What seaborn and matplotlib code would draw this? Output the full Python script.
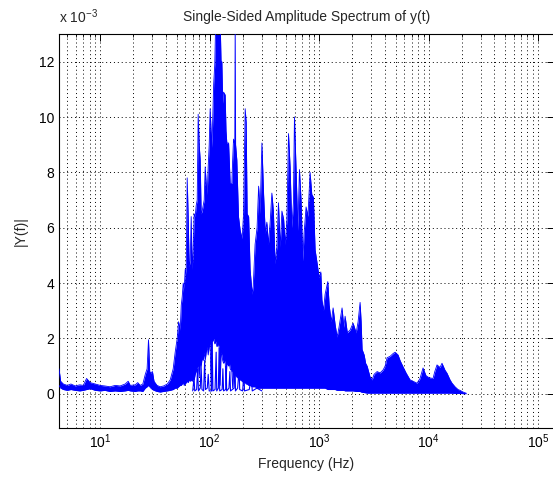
import numpy as np
import pandas as pd
import matplotlib
matplotlib.use("Agg")
import matplotlib.pyplot as plt
import seaborn as sns
from matplotlib.ticker import LogLocator, NullFormatter, FixedLocator

# ---- data (amplitude in units of 1e-3) ----
freq_hz = [4.2, 4.35, 4.6, 5.0, 5.4, 5.9, 6.5, 7.0, 7.5, 8.1, 9.0, 10.0, 11.0, 12.3, 13.7, 15.2,
           16.9, 18.0, 18.8, 20.9, 22.0, 23.2, 24.5, 25.8, 26.8, 27.6, 28.3, 29.0, 30.0, 31.0,
           33.0, 35.3, 38.0, 41.0, 43.6, 46.4, 48.4, 50.5, 52.0, 53.8, 55.0, 56.1, 57.3, 58.5,
           59.8, 61.0, 62.3, 63.6, 65.0, 66.4, 67.8, 69.2, 70.7, 72.2, 73.7, 75.3, 76.9, 78.5,
           80.2, 81.9, 83.6, 85.4, 87.2, 89.1, 91.0, 92.9, 94.9, 96.9, 99.0, 101.0, 103.0,
           104.9, 106.8, 108.8, 111.3, 113.5, 116.5, 119.6, 122.5, 124.7, 127.0, 129.2, 131.5,
           133.9, 138.5, 141.0, 143.5, 148.9, 151.5, 153.9, 159.4, 162.0, 165.2, 169.5, 171.0,
           172.5, 177.0, 183.4, 190.0, 198.0, 204.0, 211.0, 215.5, 220.0, 227.0, 234.0, 244.5,
           250.0, 260.0, 271.0, 280.0, 289.0, 300.0, 311.0, 322.0, 333.0, 344.0, 357.0, 370.0,
           382.0, 396.0, 411.0, 425.0, 441.0, 457.0, 474.0, 490.0, 508.0, 525.0, 543.0, 563.0,
           582.0, 595.0, 617.0, 639.0, 661.0, 684.0, 709.0, 729.0, 760.0, 790.0, 827.0, 857.0,
           886.0, 919.0, 960.0, 1000.0, 1036.0, 1060.0, 1095.0, 1135.0, 1200.0, 1235.0, 1290.0,
           1342.0, 1400.0, 1460.0, 1520.0, 1620.0, 1680.0, 1728.0, 1810.0, 1919.0, 2045.0,
           2180.0, 2270.0, 2368.0, 2420.0, 2470.0, 2580.0, 2660.0, 2744.0, 2923.0, 3049.0,
           3180.0, 3388.0, 3608.0, 3843.0, 4010.0, 4178.0, 4450.0, 4740.0, 4944.0, 5265.0,
           5490.0, 5848.0, 6230.0, 6774.0, 7216.0, 7846.0, 8357.0, 8901.0, 9480.0, 9887.0,
           10310.0, 10984.0, 11400.0, 11943.0, 12721.0, 13268.0, 14130.0, 14747.0, 15708.0,
           16383.0, 17450.0, 18586.0, 19400.0, 20660.0, 21550.0, 22050.0]

upper_amp = [0.9, 0.45, 0.35, 0.3, 0.35, 0.28, 0.32, 0.3, 0.55, 0.4, 0.35, 0.3, 0.28, 0.25, 0.3, 0.28,
             0.35, 0.45, 0.3, 0.32, 0.4, 0.3, 0.35, 0.7, 0.9, 1.95, 0.8, 0.75, 0.8, 0.45,
             0.3, 0.25, 0.28, 0.35, 0.5, 0.9, 1.5, 2.0, 2.6, 2.3, 3.2, 3.5, 4.0, 3.8,
             4.5, 4.3, 7.8, 6.4, 4.6, 4.8, 6.4, 4.5, 5.2, 6.5, 6.4, 6.8, 7.0, 10.1,
             9.0, 8.45, 6.5, 6.6, 6.8, 7.0, 8.2, 7.6, 7.2, 8.2, 9.0, 10.3, 9.5,
             8.9, 10.0, 11.2, 11.9, 13.5, 13.5, 13.5, 13.5, 13.5, 12.0, 12.0, 10.5,
             10.9, 10.8, 9.5, 9.06, 9.06, 8.3, 7.6, 7.6, 8.4, 9.2, 9.0, 13.5,
             9.0, 8.45, 6.4, 5.9, 5.6, 6.5, 10.3, 9.8, 6.5, 6.4, 4.5, 3.6,
             3.9, 5.4, 6.0, 7.5, 6.5, 9.06, 7.2, 5.8, 6.2, 5.4, 6.2, 7.25,
             6.6, 4.7, 5.3, 6.9, 5.3, 6.6, 6.3, 5.4, 6.3, 9.4, 8.2, 6.0,
             6.9, 10.0, 8.0, 5.9, 8.1, 7.0, 4.8, 5.8, 6.75, 6.4, 8.0, 7.2,
             7.1, 5.2, 4.7, 4.2, 4.4, 3.4, 3.0, 3.6, 4.05, 3.2, 2.6,
             3.1, 2.5, 2.05, 2.4, 3.1, 2.4, 2.8, 2.2, 2.3, 2.55,
             2.2, 2.6, 3.3, 2.6, 1.6, 1.4, 1.1, 1.0, 0.6, 0.5,
             0.7, 0.8, 0.75, 0.86, 1.0, 1.3, 1.35, 1.45, 1.5, 1.4,
             1.2, 0.97, 0.75, 0.5, 0.45, 0.38, 0.55, 0.93, 0.65, 0.6,
             0.57, 0.55, 0.8, 1.04, 0.95, 1.1, 0.85, 0.74, 0.5,
             0.38, 0.25, 0.15, 0.12, 0.06, 0.03, 0.02]

lower_amp = [0.3, 0.2, 0.15, 0.12, 0.15, 0.12, 0.1, 0.12, 0.15, 0.18, 0.12, 0.1, 0.12, 0.08, 0.1, 0.08,
             0.1, 0.12, 0.1, 0.08, 0.1, 0.1, 0.08, 0.2, 0.25, 0.3, 0.25, 0.2, 0.15, 0.12,
             0.08, 0.06, 0.08, 0.1, 0.12, 0.15, 0.2, 0.2, 0.25, 0.3, 0.3, 0.35, 0.4, 0.3,
             0.35, 0.4, 0.45, 0.4, 0.5, 0.45, 0.5, 0.45, 0.55, 0.5, 0.7, 0.8, 0.95, 1.0,
             0.6, 1.1, 1.0, 1.3, 1.2, 1.5, 1.2, 1.5, 1.7, 1.4, 1.7, 1.8, 0.2,
             1.9, 1.9, 2.0, 1.8, 1.9, 1.7, 1.8, 1.65, 0.3, 1.5, 1.4, 1.2,
             1.1, 1.2, 0.3, 1.1, 1.0, 1.1, 0.9, 0.8, 0.2, 0.8, 0.7, 0.7,
             0.65, 0.6, 0.55, 0.5, 0.45, 0.4, 0.4, 0.35, 0.35, 0.3, 0.3, 0.25,
             0.25, 0.25, 0.2, 0.2, 0.2, 0.2, 0.2, 0.2, 0.2, 0.2, 0.2, 0.2,
             0.2, 0.2, 0.2, 0.2, 0.2, 0.2, 0.2, 0.2, 0.2, 0.2, 0.2, 0.2,
             0.2, 0.2, 0.2, 0.2, 0.2, 0.2, 0.2, 0.2, 0.2, 0.2, 0.2, 0.2,
             0.2, 0.2, 0.2, 0.2, 0.2, 0.2, 0.2, 0.2, 0.15, 0.15, 0.15,
             0.15, 0.15, 0.12, 0.12, 0.12, 0.12, 0.1, 0.1, 0.1, 0.1,
             0.08, 0.08, 0.08, 0.06, 0.05, 0.04, 0.03, 0.02, 0.02, 0.02,
             0.02, 0.02, 0.02, 0.02, 0.02, 0.02, 0.02, 0.02, 0.02, 0.02,
             0.02, 0.02, 0.02, 0.02, 0.02, 0.02, 0.02, 0.02, 0.02, 0.02,
             0.02, 0.02, 0.02, 0.02, 0.02, 0.02, 0.02, 0.02, 0.02,
             0.02, 0.01, 0.01, 0.01, 0.0, 0.0, 0.0]

# isolated low spikes rising from the floor under the main band
floor_hz = [70, 72, 73, 76, 77.5, 79, 82, 83.5, 85, 88, 90, 91.5, 95, 97, 99, 104, 105.4, 107,
            112, 114.6, 116, 120, 122, 123.5, 130, 132, 134, 140, 141.5, 143, 150, 153, 155,
            167, 170.5, 172, 180, 186, 188, 200, 206, 208, 230, 240, 245, 270, 300]
floor_amp = [0.1, 0.6, 0.1, 0.15, 0.9, 0.1, 0.2, 1.0, 0.15, 0.1, 1.2, 0.15, 0.2, 0.7, 0.1, 0.1, 2.0, 0.1,
             0.15, 1.5, 0.1, 0.2, 1.65, 0.1, 0.15, 0.9, 0.1, 0.15, 1.0, 0.1, 0.2, 0.8, 0.1,
             0.2, 1.46, 0.1, 0.2, 0.9, 0.15, 0.1, 0.8, 0.1, 0.15, 0.6, 0.1, 0.2, 0.1]

x_major = [10, 100, 1000, 10000, 100000]
y_major = [0, 2, 4, 6, 8, 10, 12]

# ---- style ----
sns.set_theme(style="white")
plt.rcParams["font.family"] = ["Liberation Sans", "DejaVu Sans"]
plt.rcParams["mathtext.fontset"] = "custom"
plt.rcParams["mathtext.rm"] = "Liberation Sans"
plt.rcParams["mathtext.it"] = "Liberation Sans:italic"
plt.rcParams["mathtext.default"] = "regular"

fig = plt.figure(figsize=(5.53, 4.79), dpi=100)
ax = fig.add_axes([59 / 553, 51 / 479, 495 / 553, 394 / 479])

blue = (0, 0, 1)
# band between lower and upper envelope, one piece
ax.fill_between(freq_hz, lower_amp, upper_amp, color=blue, linewidth=0, zorder=2)
sns.lineplot(x=freq_hz, y=upper_amp, ax=ax, color=blue, linewidth=0.6,
             estimator=None, sort=False, zorder=3)
sns.lineplot(x=freq_hz, y=lower_amp, ax=ax, color=blue, linewidth=0.6,
             estimator=None, sort=False, zorder=3)
sns.lineplot(x=floor_hz, y=floor_amp, ax=ax, color=blue, linewidth=0.8,
             estimator=None, sort=False, zorder=3)

ax.set_xscale("log")
ax.set_xlim(4.2, 1.4e5)
ax.set_ylim(-1.24, 13)
ax.xaxis.set_major_locator(FixedLocator(x_major))
ax.xaxis.set_minor_locator(LogLocator(base=10, subs=np.arange(2, 10)))
ax.xaxis.set_minor_formatter(NullFormatter())
ax.set_xticks(x_major)
ax.set_xticklabels([r"$10^{%d}$" % int(np.log10(v)) for v in x_major])
ax.set_yticks(y_major)
ax.set_yticklabels([str(v) for v in y_major])

dots = (0, (1, 3))
ax.set_axisbelow(True)
ax.grid(which="major", axis="both", color="black", linestyle=dots, linewidth=0.7)
ax.grid(which="minor", axis="x", color="black", linestyle=dots, linewidth=0.7)

ax.tick_params(which="both", direction="in", top=True, right=True, colors="black",
               labelsize=10)
ax.tick_params(which="major", length=5, width=0.7)
ax.tick_params(which="minor", length=2.5, width=0.6)
for s in ax.spines.values():
    s.set_color("black")
    s.set_linewidth(0.8)

ax.set_title("Single-Sided Amplitude Spectrum of y(t)", fontsize=10, pad=9)
ax.set_xlabel("Frequency (Hz)", fontsize=10, labelpad=4)
ax.set_ylabel("|Y(f)|", fontsize=10, labelpad=8)
ax.text(0.0, 1.02, r"x 10$^{-3}$", transform=ax.transAxes, ha="left", va="bottom",
        fontsize=10)

fig.savefig("out.png", dpi=100)
